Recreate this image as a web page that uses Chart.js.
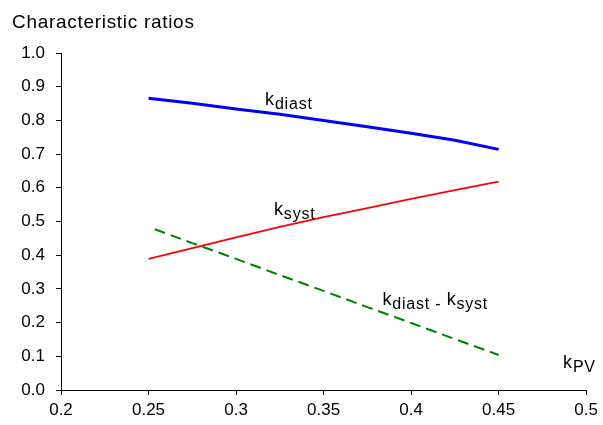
<!DOCTYPE html>
<html>
<head>
<meta charset="utf-8">
<script src="https://cdn.jsdelivr.net/npm/chart.js@4/dist/chart.umd.min.js"></script>
<style>
  html, body { margin: 0; padding: 0; background: #fff; }
  #wrap { width: 603px; height: 425px; }
</style>
</head>
<body>
<div id="wrap"><canvas id="c" width="603" height="425"></canvas></div>
<script>
// k_PV values along the horizontal axis
const kPV = [0.25, 0.275, 0.3, 0.325, 0.35, 0.375, 0.4, 0.425, 0.45];
// diastolic and systolic characteristic ratios
const kDiast = [0.866, 0.851, 0.834, 0.818, 0.800, 0.781, 0.762, 0.741, 0.714];
const kSyst  = [0.389, 0.421, 0.453, 0.484, 0.513, 0.540, 0.567, 0.593, 0.618];
// difference curve k_diast - k_syst
const kDiffX = [0.2535, 0.275, 0.3, 0.325, 0.35, 0.375, 0.4, 0.425, 0.45];
const kDiff  = [0.477, 0.436, 0.389, 0.341, 0.294, 0.246, 0.199, 0.151, 0.104];

// axis tick values and their labels
const xTicks = [0.2, 0.25, 0.3, 0.35, 0.4, 0.45, 0.5];
const xTickLabels = ['0.2', '0.25', '0.3', '0.35', '0.4', '0.45', '0.5'];
const yTicks = [0, 0.1, 0.2, 0.3, 0.4, 0.5, 0.6, 0.7, 0.8, 0.9, 1.0];
const yTickLabels = ['0.0', '0.1', '0.2', '0.3', '0.4', '0.5', '0.6', '0.7', '0.8', '0.9', '1.0'];

const chartTitle = 'Characteristic ratios';

// curve labels: main letter, subscript parts, anchor in data units
const curveLabels = [
  { parts: [['k', 'm'], ['diast', 's']], x: 0.3166, y: 0.846 },
  { parts: [['k', 'm'], ['syst', 's']], x: 0.3217, y: 0.519 },
  { parts: [['k', 'm'], ['diast - ', 's'], ['k', 'm'], ['syst', 's']], x: 0.3836, y: 0.252 },
  { parts: [['k', 'm'], ['PV', 's']], x: 0.4868, y: 0.065 }
];

const FONT = '"Liberation Sans", Arial, sans-serif';

const pts = (xs, ys) => xs.map((x, i) => ({ x: x, y: ys[i] }));

const textPlugin = {
  id: 'textPlugin',
  afterDraw(chart) {
    const ctx = chart.ctx;
    const xs = chart.scales.x, ys = chart.scales.y;
    ctx.save();
    ctx.fillStyle = '#000';
    ctx.textBaseline = 'alphabetic';
    ctx.textAlign = 'left';
    ctx.letterSpacing = '0.7px';
    ctx.font = '19px ' + FONT;
    ctx.fillText(chartTitle, 12, 28);
    ctx.letterSpacing = '0.8px';
    curveLabels.forEach(lbl => {
      let px = xs.getPixelForValue(lbl.x);
      const py = ys.getPixelForValue(lbl.y);
      lbl.parts.forEach(([t, kind]) => {
        if (kind === 'm') {
          ctx.font = '18px ' + FONT;
          ctx.fillText(t, px, py);
        } else {
          ctx.font = '16px ' + FONT;
          ctx.fillText(t, px, py + 4);
        }
        px += ctx.measureText(t).width;
      });
    });
    ctx.restore();
  }
};

new Chart(document.getElementById('c'), {
  type: 'line',
  data: {
    datasets: [
      { label: 'k_diast', data: pts(kPV, kDiast), borderColor: '#0000ff', borderWidth: 3 },
      { label: 'k_syst', data: pts(kPV, kSyst), borderColor: '#ff0000', borderWidth: 1.8 },
      { label: 'k_diast - k_syst', data: pts(kDiffX, kDiff), borderColor: '#008000', borderWidth: 2, borderDash: [11, 6] }
    ]
  },
  options: {
    responsive: false,
    animation: false,
    devicePixelRatio: 1,
    elements: { point: { radius: 0 }, line: { tension: 0, fill: false } },
    layout: { padding: { top: 53, right: 12, left: 0, bottom: 0 } },
    plugins: { legend: { display: false }, tooltip: { enabled: false }, title: { display: false } },
    scales: {
      x: {
        type: 'linear', min: 0.2, max: 0.5,
        afterBuildTicks: s => { s.ticks = xTicks.map(v => ({ value: v })); },
        afterFit: s => { s.height = 35; },
        ticks: {
          color: '#000', font: { family: FONT, size: 17 }, padding: 5, maxRotation: 0, autoSkip: false,
          callback: (v, i) => xTickLabels[i]
        },
        grid: { drawOnChartArea: false, drawTicks: true, tickLength: 5, color: '#000' },
        border: { color: '#000', width: 1 }
      },
      y: {
        type: 'linear', min: 0, max: 1,
        afterBuildTicks: s => { s.ticks = yTicks.map(v => ({ value: v })); },
        afterFit: s => { s.width = 61; },
        ticks: {
          color: '#000', font: { family: FONT, size: 17 }, padding: 11, autoSkip: false,
          callback: (v, i) => yTickLabels[i]
        },
        grid: { drawOnChartArea: false, drawTicks: true, tickLength: 5, color: '#000' },
        border: { color: '#000', width: 1 }
      }
    }
  },
  plugins: [textPlugin]
});
</script>
</body>
</html>
